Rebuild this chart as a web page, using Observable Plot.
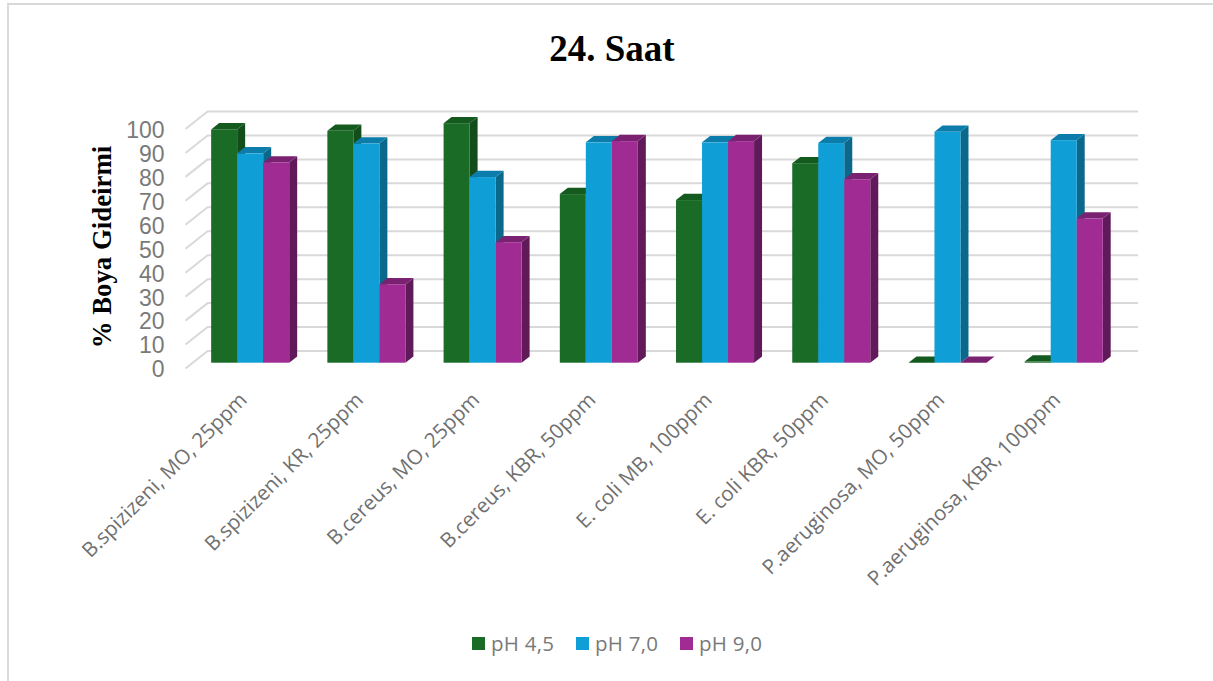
<!DOCTYPE html>
<html lang="tr"><head><meta charset="utf-8">
<script src="https://cdn.jsdelivr.net/npm/d3@7"></script>
<script src="https://cdn.jsdelivr.net/npm/@observablehq/plot@0.6"></script>
<style>
html,body{margin:0;padding:0;background:#fff;width:1213px;height:681px;overflow:hidden}
#frame{position:absolute;left:7px;top:3px;width:1206px;height:678px;box-sizing:border-box;border-left:2px solid #d9d9d9;border-top:2px solid #d9d9d9}
#title{position:absolute;left:0;top:28px;width:1224px;text-align:center;font:bold 37px "Liberation Serif",serif;color:#000;line-height:42px}
#chart{position:absolute;left:0;top:90px}
#legend{position:absolute;left:472px;top:631px;display:flex;gap:21px;font:20.5px "Open Sans",sans-serif;letter-spacing:.25px;color:#7a7a7a;line-height:24px;white-space:nowrap}
#legend span.i{display:flex;align-items:center;gap:6px;width:83px}
#legend i{display:block;width:13px;height:13px;flex:none}
</style></head><body>
<div id="frame"></div>
<div id="title">24. Saat</div>
<div id="chart"></div>
<div id="legend"></div>
<script>
const categories = ["B.spizizeni, MO, 25ppm","B.spizizeni, KR, 25ppm","B.cereus, MO, 25ppm","B.cereus, KBR, 50ppm","E. coli MB, 100ppm","E. coli KBR, 50ppm","P.aeruginosa, MO, 50ppm","P.aeruginosa, KBR, 100ppm"];
const seriesNames = ["pH 4,5","pH 7,0","pH 9,0"];
const ph45 = [97.4,96.8,100,70.4,67.9,83.3,0,0.5];
const ph70 = [87.4,91.5,77.5,92,92,91.7,96.4,92.9];
const ph90 = [83.6,32.7,50.3,92.5,92.5,76.6,0,60.2];
const yTicks = [0,10,20,30,40,50,60,70,80,90,100];
const faceColors = [
  {front:"#1a6b26",side:"#124d1a",top:"#145a1f"},
  {front:"#0f9ed5",side:"#0a688d",top:"#0c7dab"},
  {front:"#a02b93",side:"#611a59",top:"#7b2171"}
];

// 3D look, in data units of the two scales
const wallDx = 0.19, wallDy = 7.3, xMax = 8.2, yMax = 107.3;
const barStart = 0.225, barW = 0.2238, baseY = 2.21, depthX = 0.0688, depthY = 2.63;

const rows = [ph45,ph70,ph90].flatMap((vals,s)=>vals.map((v,i)=>{
  const x1 = i + barStart + s*barW;
  return {s,i,v,x1,x2:x1+barW,id:s+"-"+i,c:faceColors[s]};
}));
const sidePts = rows.flatMap(r=>[
  {...r,px:r.x2,lo:baseY,hi:baseY+r.v},
  {...r,px:r.x2+depthX,lo:baseY+depthY,hi:baseY+depthY+r.v}
]);
const topPts = rows.flatMap(r=>[
  {...r,py:baseY+r.v,a:r.x1,b:r.x2},
  {...r,py:baseY+r.v+depthY,a:r.x1+depthX,b:r.x2+depthX}
]);

const bySeries = s => d => d.s===s;
const marks = [
  Plot.ruleY(yTicks,{y:d=>d+wallDy,x1:wallDx,x2:xMax,stroke:"#d9d9d9",strokeWidth:2}),
  Plot.link(yTicks,{x1:0,x2:wallDx,y1:d=>d,y2:d=>d+wallDy,stroke:"#d9d9d9",strokeWidth:2})
];
[0,1,2].forEach(s=>{
  marks.push(
    Plot.areaY(sidePts.filter(bySeries(s)),{x:"px",y1:"lo",y2:"hi",z:"id",fill:d=>d.c.side}),
    Plot.areaX(topPts.filter(bySeries(s)),{y:"py",x1:"a",x2:"b",z:"id",fill:d=>d.c.top}),
    Plot.rect(rows.filter(bySeries(s)),{x1:"x1",x2:"x2",y1:baseY,y2:d=>baseY+d.v,fill:d=>d.c.front})
  );
});
marks.push(
  Plot.axisY({ticks:yTicks,tickSize:0,tickPadding:21,dy:1.5,label:null,fontSize:23,fontFamily:"Liberation Sans",fill:"#7a7a7a"}),
  Plot.axisX({ticks:categories.map((_,i)=>i+0.5),tickSize:0,tickPadding:28,tickRotate:-45,label:null,
    tickFormat:d=>categories[Math.round(d-0.5)],fontSize:20.5,fontFamily:"Open Sans",fill:"#707070"}),
  Plot.text(["% Boya Gideirmi"],{frameAnchor:"left",y:50.7,text:d=>d,rotate:-90,dx:-83,textAnchor:"middle",fontSize:26.8,fontWeight:"bold",fontFamily:"Liberation Serif",fill:"#000"})
);
const chart = Plot.plot({
  width:1213,height:535,marginLeft:185,marginRight:75,marginTop:21,marginBottom:257,
  style:{background:"transparent",overflow:"visible"},
  x:{type:"linear",domain:[0,xMax]},
  y:{type:"linear",domain:[0,yMax]},
  marks
});
document.getElementById("chart").append(chart);
const legend = document.getElementById("legend");
seriesNames.forEach((n,s)=>{
  const sp=document.createElement("span");sp.className="i";
  const sw=document.createElement("i");sw.style.background=faceColors[s].front;
  sp.append(sw,document.createTextNode(n));legend.append(sp);
});
</script>
</body></html>
